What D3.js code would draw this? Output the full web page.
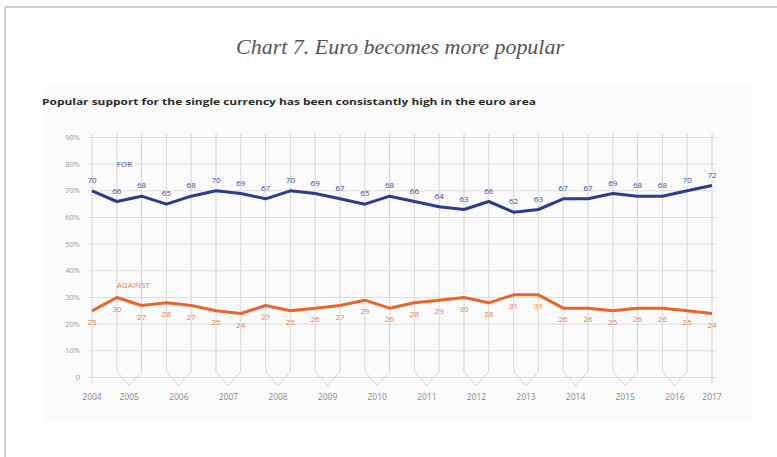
<!DOCTYPE html>
<html><head><meta charset="utf-8">
<script src="https://cdn.jsdelivr.net/npm/d3@7"></script>
<style>body{margin:0;background:#fff;}svg{display:block;}</style>
</head><body>
<svg id="c" width="777" height="457"></svg>
<script>
const forVals = [70,66,68,65,68,70,69,67,70,69,67,65,68,66,64,63,66,62,63,67,67,69,68,68,70,72];
const againstVals = [25,30,27,28,27,25,24,27,25,26,27,29,26,28,29,30,28,31,31,26,26,25,26,26,25,24];
const yearLabels = ["2004","2005","2006","2007","2008","2009","2010","2011","2012","2013","2014","2015","2016","2017"];
const yTicks = [0,10,20,30,40,50,60,70,80,90];

const svg = d3.select("#c");
// outer frame
svg.append("line").attr("x1",5).attr("x2",777).attr("y1",7).attr("y2",7).attr("stroke","#d0d0d0").attr("stroke-width",2);
svg.append("line").attr("x1",5).attr("x2",5).attr("y1",7).attr("y2",457).attr("stroke","#d0d0d0").attr("stroke-width",2);
// faint panel
svg.append("rect").attr("x",43).attr("y",86).attr("width",708).attr("height",336).attr("fill","#fbfbfb");

svg.append("text").attr("x",400).attr("y",54).attr("text-anchor","middle")
  .attr("font-family","'Liberation Serif','DejaVu Serif',serif").attr("font-style","italic")
  .attr("font-size",21).attr("fill","#555")
  .attr("textLength",328).attr("lengthAdjust","spacingAndGlyphs")
  .text("Chart 7. Euro becomes more popular");
svg.append("text").attr("x",42).attr("y",105)
  .attr("font-family","'Open Sans','DejaVu Sans',sans-serif").attr("font-weight","bold")
  .attr("font-size",9.5).attr("fill","#2a2a2a")
  .attr("textLength",494).attr("lengthAdjust","spacingAndGlyphs")
  .text("Popular support for the single currency has been consistantly high in the euro area");

const idx = d3.range(forVals.length);
const x = d3.scaleLinear().domain([0, forVals.length-1]).range([92, 712]);
const y = d3.scaleLinear().domain([0, 90]).range([377.5, 137.5]);

const g = svg.append("g");
// horizontal gridlines
g.selectAll("line.h").data(yTicks).join("line")
  .attr("x1",88).attr("x2",716).attr("y1",d=>y(d)).attr("y2",d=>y(d))
  .attr("stroke","#dcdcdc").attr("stroke-width",1);
// y tick labels
g.selectAll("text.yl").data(yTicks).join("text")
  .attr("x",80).attr("y",d=>y(d)+2.5).attr("text-anchor","end")
  .attr("font-family","'Open Sans',sans-serif").attr("font-size",7.5).attr("fill","#999")
  .text(d=>d===0?"0":d+"%");

// year pentagons (pairs of points)
const pairs = d3.range(1, forVals.length-1, 2);
g.selectAll("path.pent").data(pairs).join("path")
  .attr("d", i => {
    const a = x(i), b = x(i+1), m = (a+b)/2;
    return `M${a},${y(90)-4} L${a},${y(0)-6} L${m},${y(0)+8} L${b},${y(0)-6} L${b},${y(90)-4}`;
  })
  .attr("fill","none").attr("stroke","#d6d6d6").attr("stroke-width",1);
// end lines
[0, forVals.length-1].forEach(i=>{
  g.append("line").attr("x1",x(i)).attr("x2",x(i)).attr("y1",y(90)-4).attr("y2",y(0)+6)
   .attr("stroke","#d6d6d6").attr("stroke-width",1);
});
// year labels
const yearPos = [0, ...pairs.map(i=>i+0.5), forVals.length-1];
g.selectAll("text.yr").data(yearLabels).join("text")
  .attr("x",(d,k)=>x(yearPos[k])).attr("y",400).attr("text-anchor","middle")
  .attr("font-family","'Open Sans',sans-serif").attr("font-size",8.5).attr("fill","#888")
  .text(d=>d);

const line = v => d3.line().x(i=>x(i)).y(i=>y(v[i]))(idx);
const blue = "#2d3b8f", orange = "#e9652c";
g.append("path").attr("d", line(forVals)).attr("fill","none").attr("stroke",blue).attr("stroke-width",3).attr("stroke-linejoin","round");
g.append("path").attr("d", line(againstVals)).attr("fill","none").attr("stroke",orange).attr("stroke-width",3).attr("stroke-linejoin","round");

g.selectAll("text.fl").data(idx).join("text")
  .attr("x",i=>x(i)).attr("y",i=>y(forVals[i])-8).attr("text-anchor","middle")
  .attr("font-family","'Open Sans',sans-serif").attr("font-size",8).attr("fill","#3b4aa0")
  .text(i=>forVals[i]);
g.selectAll("text.al").data(idx).join("text")
  .attr("x",i=>x(i)).attr("y",i=>y(againstVals[i])+14).attr("text-anchor","middle")
  .attr("font-family","'Open Sans',sans-serif").attr("font-size",8).attr("fill","#ee7a45")
  .text(i=>againstVals[i]);

g.append("text").attr("x",x(1)).attr("y",y(80)+3).attr("font-family","'Open Sans',sans-serif")
  .attr("font-size",8).attr("fill","#3b4aa0").text("FOR");
g.append("text").attr("x",x(1)).attr("y",y(40)+17).attr("font-family","'Open Sans',sans-serif")
  .attr("font-size",8).attr("fill","#ee7a45").text("AGAINST");
</script>
</body></html>
